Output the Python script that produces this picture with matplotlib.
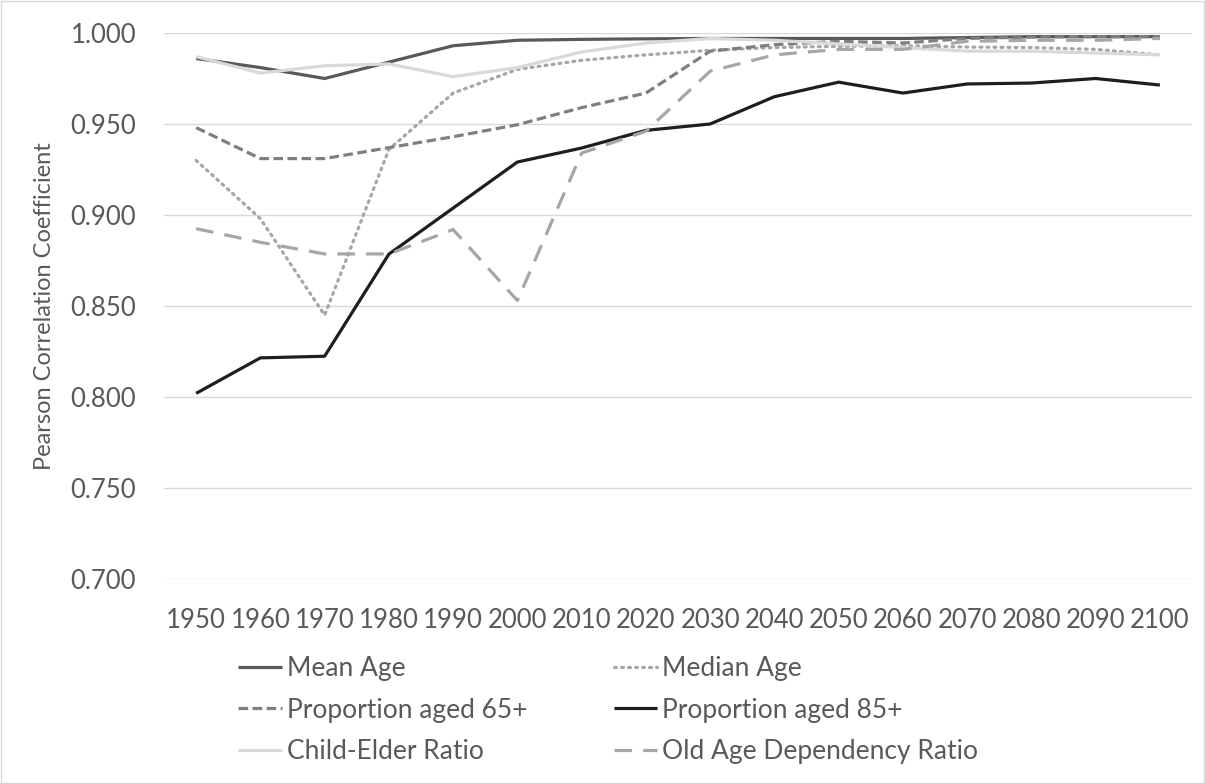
import matplotlib
matplotlib.use("Agg")
import matplotlib.pyplot as plt
from matplotlib.patches import Rectangle

years = ["1950", "1960", "1970", "1980", "1990", "2000", "2010", "2020",
         "2030", "2040", "2050", "2060", "2070", "2080", "2090", "2100"]

mean_age = [0.986, 0.981, 0.975, 0.984, 0.993, 0.996, 0.9965, 0.9968, 0.997, 0.997,
            0.997, 0.997, 0.9975, 0.998, 0.998, 0.998]
median_age = [0.930, 0.898, 0.845, 0.936, 0.967, 0.980, 0.985, 0.988, 0.9905, 0.992,
              0.9927, 0.993, 0.9923, 0.992, 0.991, 0.988]
prop_65 = [0.948, 0.931, 0.931, 0.937, 0.943, 0.9496, 0.959, 0.967, 0.990, 0.9936,
           0.9954, 0.9945, 0.997, 0.9978, 0.998, 0.998]
prop_85 = [0.802, 0.8215, 0.8224, 0.8785, 0.9038, 0.9291, 0.9368, 0.9465, 0.950, 0.965,
           0.973, 0.967, 0.972, 0.9725, 0.975, 0.9714]
child_elder = [0.987, 0.978, 0.982, 0.983, 0.976, 0.981, 0.9896, 0.9945, 0.997, 0.996,
               0.994, 0.992, 0.990, 0.990, 0.989, 0.988]
old_age_dep = [0.8925, 0.885, 0.8786, 0.8786, 0.892, 0.853, 0.934, 0.946, 0.979, 0.988,
               0.991, 0.991, 0.9954, 0.996, 0.996, 0.997]

labels = ["Mean Age", "Median Age", "Proportion aged 65+", "Proportion aged 85+",
          "Child-Elder Ratio", "Old Age Dependency Ratio"]
yticks = [0.700, 0.750, 0.800, 0.850, 0.900, 0.950, 1.000]

plt.rcParams['font.family'] = ['Lato', 'DejaVu Sans']

fig = plt.figure(figsize=(12.05, 7.83), dpi=100)
ax = fig.add_axes([164/1205, 1 - 579/783, 1028/1205, 546/783])

x = list(range(len(years)))
lw = 2.3
series = [mean_age, median_age, prop_65, prop_85, child_elder, old_age_dep]
styles = [
    dict(color="#595959", linestyle="-"),
    dict(color="#A6A6A6", linestyle=(0, (0.6, 1.6)), dash_capstyle="round"),
    dict(color="#7F7F7F", linestyle=(0, (3, 1.4))),
    dict(color="#1E1E1E", linestyle="-"),
    dict(color="#D9D9D9", linestyle="-"),
    dict(color="#A6A6A6", linestyle=(0, (5.5, 3.5))),
]
handles = []
for s, st, lab in zip(series, styles, labels):
    h, = ax.plot(x, s, lw=lw, label=lab, solid_capstyle="butt", **st)
    handles.append(h)

ax.set_xlim(-0.5, len(years) - 0.5)
ax.set_ylim(0.700, 1.000)
ax.set_yticks(yticks)
ax.set_yticklabels([f"{v:.3f}" for v in yticks])
ax.set_xticks(x)
ax.set_xticklabels(years)
ax.grid(axis="y", color="#D9D9D9", lw=1)
ax.set_axisbelow(True)
for sp in ax.spines.values():
    sp.set_visible(False)
ax.tick_params(axis="both", length=0, labelsize=18.5, colors="#595959")
ax.tick_params(axis="x", pad=21)
ax.tick_params(axis="y", pad=20)
fig.text(45/1205, 1 - 306/783, "Pearson Correlation Coefficient", rotation=90,
         ha="center", va="center", fontsize=17, color="#595959")

order = [0, 2, 4, 1, 3, 5]
leg = fig.legend([handles[i] for i in order], [labels[i] for i in order],
                 ncol=2, loc="upper left", bbox_to_anchor=(238/1205, 1 - 656/783),
                 frameon=False, fontsize=19, handlelength=1.65, handletextpad=0.2,
                 columnspacing=3.27, labelspacing=0.63, borderaxespad=0, borderpad=0)
for t in leg.get_texts():
    t.set_color("#595959")

fig.patches.append(Rectangle((0.5/1205, 0.5/783), 1 - 1.5/1205, 1 - 1.5/783,
                             transform=fig.transFigure, fill=False,
                             edgecolor="#D9D9D9", lw=1))

fig.savefig("out.png", dpi=100)
